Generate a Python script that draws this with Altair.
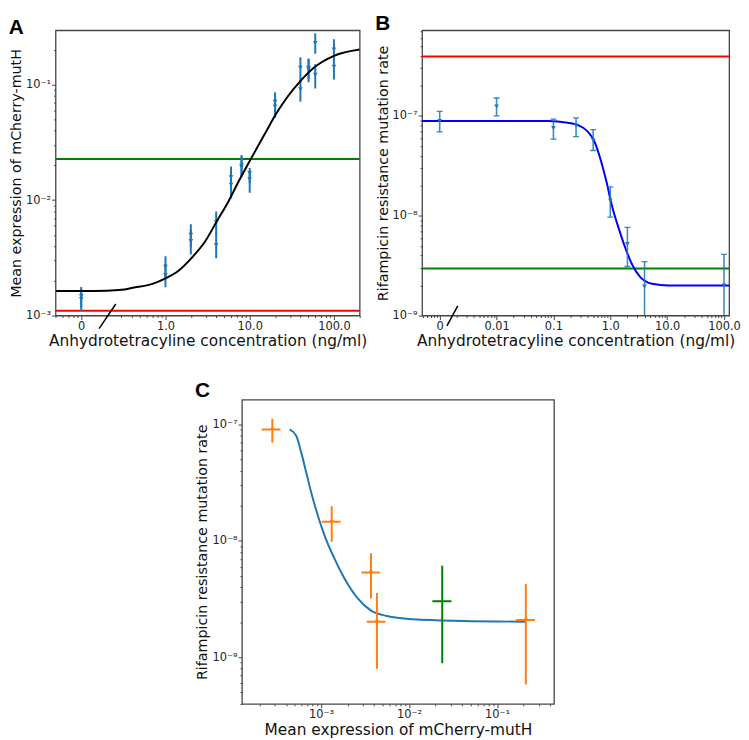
import altair as alt
import pandas as pd

# ---------------- Panel A: mean mCherry-mutH expression vs aTc ----------------
a_conc = [0, 0, 1, 1, 2, 2, 4, 4, 6, 6, 8, 8, 10, 10, 20, 20, 40, 40, 50, 50, 60, 60, 100, 100]
a_expr = [1.48e-3, 1.39e-3, 2.65e-3, 2.24e-3, 5.01e-3, 4.42e-3, 6.45e-3, 4.09e-3,
          0.0158, 0.0136, 0.0200, 0.0194, 0.0172, 0.0152, 0.0710, 0.0646,
          0.140, 0.0913, 0.140, 0.136, 0.230, 0.122, 0.202, 0.143]
a_lo = [1.17e-3, 1.09e-3, 2.12e-3, 1.76e-3, 3.90e-3, 3.38e-3, 5.00e-3, 3.13e-3,
        0.0122, 0.0104, 0.0163, 0.0158, 0.0140, 0.0116, 0.0580, 0.0516,
        0.112, 0.0710, 0.112, 0.105, 0.185, 0.0927, 0.165, 0.111]
a_hi = [1.77e-3, 1.70e-3, 3.27e-3, 2.80e-3, 6.18e-3, 5.50e-3, 7.96e-3, 5.20e-3,
        0.0196, 0.0170, 0.0246, 0.0238, 0.0190, 0.0180, 0.0860, 0.0780,
        0.173, 0.114, 0.169, 0.165, 0.279, 0.150, 0.247, 0.175]
a_fit_x = [0.0496, 0.1, 0.2, 0.3, 0.41, 0.7, 1.0, 1.44, 2.06, 2.94, 4.04, 5.53, 7.57,
           10.4, 14.9, 21.3, 28, 39.7, 59.6, 100, 202]
a_fit_y = [1.63e-3, 1.63e-3, 1.64e-3, 1.67e-3, 1.74e-3, 1.88e-3, 2.10e-3, 2.46e-3, 3.18e-3,
           4.36e-3, 6.50e-3, 9.6e-3, 0.0150, 0.0230, 0.0368, 0.0582, 0.0783, 0.107, 0.143,
           0.178, 0.202]
a_red = [1.1e-3]
a_green = [0.0227]
a_break_x = [0.163, 0.257]
a_break_y = [7.7e-4, 1.26e-3]
A_ZERO_AT = 0.1
A_XDOM = [0.0496, 202]
A_YDOM = [1e-3, 0.296]

# ---------------- Panel B: rifampicin resistance mutation rate vs aTc ----------------
b_conc = [0, 0.01, 0.1, 0.25, 0.5, 1, 2, 4, 100]
b_rate = [8.9e-8, 1.24e-7, 7.55e-8, 8.0e-8, 5.7e-8, 1.42e-8, 5.2e-9, 1.96e-9, 2.0e-9]
b_lo = [6.9e-8, 9.98e-8, 5.85e-8, 6.2e-8, 4.5e-8, 9.7e-9, 3.1e-9, 7.96e-10, 5.85e-10]
b_hi = [1.11e-7, 1.51e-7, 9.3e-8, 9.55e-8, 7.3e-8, 1.95e-8, 7.65e-9, 3.47e-9, 4.1e-9]
b_fit_x = [4.9e-4, 0.08, 0.178, 0.267, 0.398, 0.521, 0.68, 0.832, 1.09, 1.43, 1.86,
           2.43, 3.4, 5.43, 10.6, 123]
b_fit_y = [8.9e-8, 8.9e-8, 8.55e-8, 8.1e-8, 7.0e-8, 5.6e-8, 3.6e-8, 2.34e-8, 1.21e-8,
           7.25e-9, 4.67e-9, 3.23e-9, 2.41e-9, 2.08e-9, 2.0e-9, 2.0e-9]
b_red = [3.93e-7]
b_green = [2.96e-9]
b_break_x = [1.34e-3, 2.08e-3]
b_break_y = [7.9e-10, 1.25e-9]
B_ZERO_AT = 0.001
B_XDOM = [4.9e-4, 123]
B_YDOM = [1e-9, 7.2e-7]

# ---------------- Panel C: mutation rate vs expression ----------------
c_expr = [2.79e-4, 1.32e-3, 3.69e-3, 4.31e-3, 0.0238, 0.212]
c_expr_lo = [2.11e-4, 1.02e-3, 2.87e-3, 3.30e-3, 0.0184, 0.164]
c_expr_hi = [3.45e-4, 1.66e-3, 4.65e-3, 5.40e-3, 0.0303, 0.268]
c_rate = [9.06e-8, 1.46e-8, 5.36e-9, 2.02e-9, 3.03e-9, 2.09e-9]
c_rate_lo = [6.98e-8, 9.84e-9, 3.2e-9, 7.96e-10, 8.89e-10, 5.85e-10]
c_rate_hi = [1.12e-7, 1.98e-8, 7.83e-9, 3.57e-9, 6.1e-9, 4.26e-9]
c_group = ["measured", "measured", "measured", "measured", "wild type", "measured"]
c_fit_x = [4.4e-4, 5.23e-4, 5.95e-4, 6.78e-4, 7.71e-4, 9.16e-4, 1.09e-3, 1.41e-3, 1.83e-3,
           2.58e-3, 3.66e-3, 5.62e-3, 0.0112, 0.041, 0.21]
c_fit_y = [9.06e-8, 7.95e-8, 5.73e-8, 3.87e-8, 2.62e-8, 1.66e-8, 1.12e-8, 7.1e-9, 4.8e-9,
           3.24e-9, 2.53e-9, 2.26e-9, 2.12e-9, 2.05e-9, 2.02e-9]
C_XDOM = [1.26e-4, 0.443]
C_YDOM = [3.98e-10, 1.63e-7]

TAB_BLUE = "#1f77b4"
FONT = "DejaVu Sans"


def tol(v):
    return f"abs(datum.value - {v!r}) <= {abs(v) * 1e-6!r}"


def minors(lo, hi, e0, e1):
    out = []
    for e in range(e0, e1 + 1):
        for m in range(2, 10):
            v = float(f"{m}e{e}")
            if lo <= v <= hi:
                out.append(v)
    return out


def log_axis(title, majors, labels, minor_vals, **kw):
    expr = "".join(f"{tol(v)} ? '{t}' : " for v, t in zip(majors, labels)) + "''"
    major_test = " || ".join(tol(v) for v in majors)
    return alt.Axis(title=title, values=majors + minor_vals, labelExpr=expr,
                    tickSize={"condition": {"test": major_test, "value": 4}, "value": 2},
                    labelOverlap=False, labelFlush=False, grid=False, domain=False, **kw)


def panel_title(letter, offset):
    return alt.TitleParams(text=letter, anchor="start", frame="bounds", font="Liberation Sans",
                           fontSize=21, fontWeight="bold", color="black", offset=offset)


# ---------- Panel A ----------
axA_x = log_axis("Anhydrotetracyline concentration (ng/ml)", [0.1, 1, 10, 100],
                 ["0", "1.0", "10.0", "100.0"], minors(A_XDOM[0], A_XDOM[1], -2, 2))
axA_y = log_axis("Mean expression of mCherry-mutH", [1e-3, 1e-2, 1e-1],
                 ["10⁻³", "10⁻²", "10⁻¹"], minors(A_YDOM[0], A_YDOM[1], -3, -1))
sxA = alt.Scale(type="log", domain=A_XDOM, nice=False)
syA = alt.Scale(type="log", domain=A_YDOM, nice=False)
XA = alt.X("x:Q", scale=sxA, axis=axA_x)
YA = alt.Y("y:Q", scale=syA, axis=axA_y)

a_df = pd.DataFrame({"conc": a_conc, "y": a_expr, "lo": a_lo, "hi": a_hi})
a_base = alt.Chart(a_df).transform_calculate(x=f"datum.conc == 0 ? {A_ZERO_AT} : datum.conc")
a_fit = alt.Chart(pd.DataFrame({"x": a_fit_x, "y": a_fit_y})).mark_line(
    color="black", strokeWidth=2, interpolate="monotone", clip=True).encode(x=XA, y=YA)
a_rules = alt.layer(
    alt.Chart(pd.DataFrame({"y": a_red})).mark_rule(color="#ff0000", strokeWidth=2).encode(y=YA),
    alt.Chart(pd.DataFrame({"y": a_green})).mark_rule(color="#008000", strokeWidth=2).encode(y=YA),
)
a_err = a_base.mark_rule(color=TAB_BLUE, strokeWidth=2, clip=True).encode(
    x=XA, y=alt.Y("lo:Q", scale=syA, axis=axA_y), y2="hi:Q")
a_pts = a_base.mark_point(shape="triangle-down", filled=True, color=TAB_BLUE, size=22,
                          opacity=1).encode(x=XA, y=YA)
a_brk = alt.Chart(pd.DataFrame({"x": a_break_x, "y": a_break_y})).mark_line(
    color="black", strokeWidth=1.5).encode(x=XA, y=YA)
chartA = alt.layer(a_rules, a_err, a_pts, a_fit, a_brk).properties(
    width=307, height=288, title=panel_title("A", -8))

# ---------- Panel B ----------
axB_x = log_axis("Anhydrotetracyline concentration (ng/ml)", [0.001, 0.01, 0.1, 1, 10, 100],
                 ["0", "0.01", "0.1", "1.0", "10.0", "100.0"], minors(B_XDOM[0], B_XDOM[1], -4, 2))
axB_y = log_axis("Rifampicin resistance mutation rate", [1e-9, 1e-8, 1e-7],
                 ["10⁻⁹", "10⁻⁸", "10⁻⁷"], minors(B_YDOM[0], B_YDOM[1], -9, -7))
sxB = alt.Scale(type="log", domain=B_XDOM, nice=False)
syB = alt.Scale(type="log", domain=B_YDOM, nice=False)
XB = alt.X("x:Q", scale=sxB, axis=axB_x)
YB = alt.Y("y:Q", scale=syB, axis=axB_y)

b_df = pd.DataFrame({"conc": b_conc, "y": b_rate, "lo": b_lo, "hi": b_hi})
b_base = alt.Chart(b_df).transform_calculate(x=f"datum.conc == 0 ? {B_ZERO_AT} : datum.conc")
b_fit = alt.Chart(pd.DataFrame({"x": b_fit_x, "y": b_fit_y})).mark_line(
    color="#0000ff", strokeWidth=2, interpolate="monotone", clip=True).encode(x=XB, y=YB)
b_rules = alt.layer(
    alt.Chart(pd.DataFrame({"y": b_red})).mark_rule(color="#ff0000", strokeWidth=2).encode(y=YB),
    alt.Chart(pd.DataFrame({"y": b_green})).mark_rule(color="#008000", strokeWidth=2).encode(y=YB),
)
b_err = b_base.mark_rule(color=TAB_BLUE, strokeWidth=1.6, opacity=0.85, clip=True).encode(
    x=XB, y=alt.Y("lo:Q", scale=syB, axis=axB_y), y2="hi:Q")
b_cap_lo = b_base.mark_tick(color=TAB_BLUE, orient="horizontal", size=6, thickness=1.3,
                            opacity=0.85, clip=True).encode(
    x=XB, y=alt.Y("lo:Q", scale=syB, axis=axB_y))
b_cap_hi = b_base.mark_tick(color=TAB_BLUE, orient="horizontal", size=6, thickness=1.3,
                            opacity=0.85, clip=True).encode(
    x=XB, y=alt.Y("hi:Q", scale=syB, axis=axB_y))
b_pts = b_base.mark_point(shape="triangle-down", filled=True, color=TAB_BLUE, size=22,
                          opacity=1).encode(x=XB, y=YB)
b_brk = alt.Chart(pd.DataFrame({"x": b_break_x, "y": b_break_y})).mark_line(
    color="black", strokeWidth=1.5).encode(x=XB, y=YB)
chartB = alt.layer(b_rules, b_fit, b_err, b_cap_lo, b_cap_hi, b_pts, b_brk).properties(
    width=310, height=288, title=panel_title("B", -8))

# ---------- Panel C ----------
axC_x = log_axis("Mean expression of mCherry-mutH", [1e-3, 1e-2, 1e-1],
                 ["10⁻³", "10⁻²", "10⁻¹"], minors(C_XDOM[0], C_XDOM[1], -4, -1))
axC_y = log_axis("Rifampicin resistance mutation rate", [1e-9, 1e-8, 1e-7],
                 ["10⁻⁹", "10⁻⁸", "10⁻⁷"], minors(C_YDOM[0], C_YDOM[1], -10, -7))
sxC = alt.Scale(type="log", domain=C_XDOM, nice=False)
syC = alt.Scale(type="log", domain=C_YDOM, nice=False)
XC = alt.X("x:Q", scale=sxC, axis=axC_x)
YC = alt.Y("y:Q", scale=syC, axis=axC_y)
col = alt.Color("group:N", scale=alt.Scale(domain=["measured", "wild type"],
                                           range=["#ff7f0e", "#008000"]), legend=None)

c_df = pd.DataFrame({"x": c_expr, "xlo": c_expr_lo, "xhi": c_expr_hi,
                     "y": c_rate, "ylo": c_rate_lo, "yhi": c_rate_hi, "group": c_group})
c_base = alt.Chart(c_df)
c_fit = alt.Chart(pd.DataFrame({"x": c_fit_x, "y": c_fit_y})).mark_line(
    color=TAB_BLUE, strokeWidth=2, interpolate="monotone", clip=True).encode(x=XC, y=YC)
c_verr = c_base.mark_rule(strokeWidth=2, clip=True).encode(
    x=XC, y=alt.Y("ylo:Q", scale=syC, axis=axC_y), y2="yhi:Q", color=col)
c_herr = c_base.mark_rule(strokeWidth=2, clip=True).encode(
    x=alt.X("xlo:Q", scale=sxC, axis=axC_x), x2="xhi:Q", y=YC, color=col)
c_pts = c_base.transform_filter("datum.group == 'measured'").mark_point(
    shape="triangle-down", filled=True, size=18, opacity=1).encode(x=XC, y=YC, color=col)
chartC = alt.layer(c_fit, c_verr, c_herr, c_pts).properties(
    width=315, height=307, title=panel_title("C", -1))

top = alt.hconcat(chartA, chartB, spacing=7)
chart = alt.vconcat(top, chartC, spacing=29, center=True).properties(
    padding={"left": 0, "top": 0, "right": 0, "bottom": 0}
).configure_view(stroke="#444", strokeWidth=1.3).configure_axis(
    labelFont=FONT, labelFontSize=11.5, labelColor="#222", labelPadding=1,
    titleFont=FONT, titleFontWeight="normal", titleColor="#111",
    titlePadding=2, tickColor="#444", tickWidth=1
).configure_axisX(titleFontSize=15.5).configure_axisY(titleFontSize=14.4
).configure_title(font="Liberation Sans")

chart.save("out.html", embed_options={"renderer": "svg", "actions": False})
